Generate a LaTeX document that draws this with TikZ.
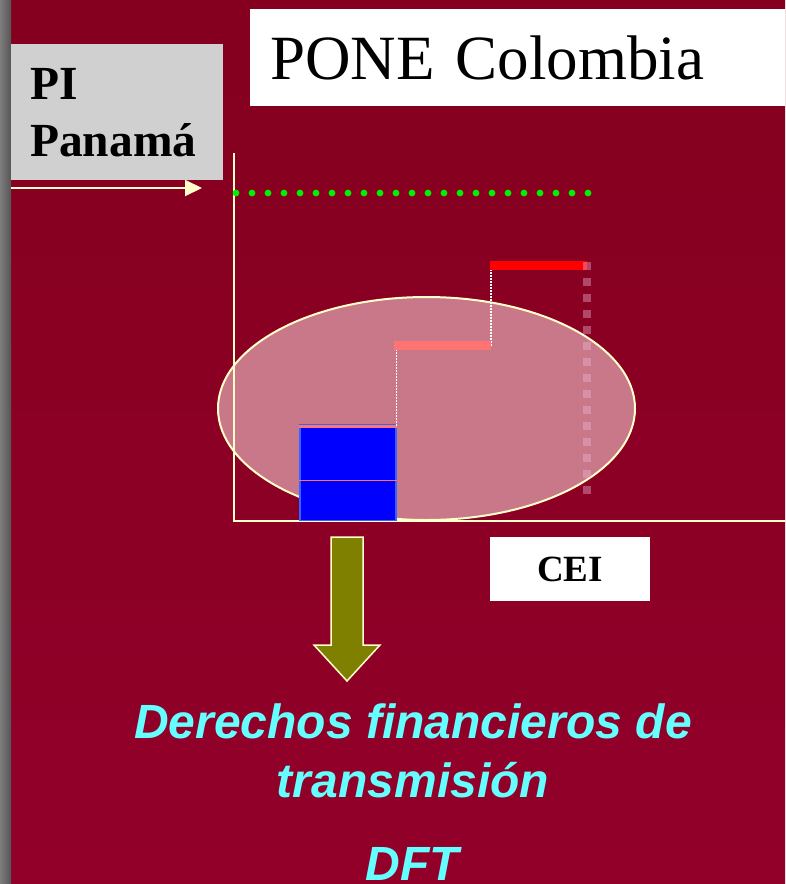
\documentclass[tikz,border=0pt]{standalone}
\usepackage{fontspec}
\setmainfont{Liberation Serif}
\newfontfamily\arialfont{Liberation Sans}
\usetikzlibrary{arrows.meta,positioning,shapes.geometric}
\definecolor{bgtop}{RGB}{132,0,30}
\definecolor{bgbot}{RGB}{146,0,42}
\definecolor{stripl}{RGB}{125,125,125}
\definecolor{stripr}{RGB}{85,85,85}
\definecolor{cream}{RGB}{255,255,204}
\definecolor{pigray}{RGB}{208,208,208}
\definecolor{ovalfill}{RGB}{200,120,136}
\definecolor{salmon}{RGB}{255,115,115}
\definecolor{boxblue}{RGB}{0,0,255}
\definecolor{boxedge}{RGB}{50,100,255}
\definecolor{mauve}{RGB}{235,180,215}
\definecolor{dotgreen}{RGB}{0,240,0}
\definecolor{arrowolive}{RGB}{128,128,0}
\definecolor{dftcyan}{RGB}{102,255,255}
\tikzset{
  panel/.style={fill=white, inner sep=0pt},
  axisline/.style={cream, line width=2.6},
  stepline/.style={white, line width=1.5, dash pattern=on 1.5pt off 1.5pt},
  levelbar/.style={line width=8.5},
  dftline/.style={dftcyan, font=\fontsize{48}{58}\selectfont\arialfont\bfseries\itshape, anchor=base, inner sep=0pt}
}
\begin{document}
\begin{tikzpicture}[x=1pt,y=-1pt]
  \useasboundingbox (0,0) rectangle (785,884);
  % background
  \shade[top color=bgtop, bottom color=bgbot] (11,0) rectangle (785,884);
  \shade[left color=stripl, right color=stripr] (0,0) rectangle (11,884);

  % titles
  \node[panel, anchor=north west, minimum width=535, minimum height=97,
        text width=495, inner xsep=20, align=left,
        font=\fontsize{63}{70}\selectfont] (pone) at (250,9) {PONE Colombia};
  \node[fill=pigray, inner sep=0pt, anchor=north west, minimum width=212, minimum height=136,
        text width=174, inner xsep=19, align=left,
        font=\fontsize{47.5}{57}\selectfont\bfseries] (pi) at (11,44) {PI\\Panamá};
  \coordinate (pistart) at (11,188);
  \coordinate (piend) at (202,188);
  \draw[cream, line width=2, -{Triangle[length=17pt,width=16pt]}] (pistart) -- (piend);

  % oval
  \node[draw=cream, line width=2, fill=ovalfill, ellipse, minimum width=417, minimum height=223,
        inner sep=0pt] (oval) at (426.5,408.5) {};

  % axes
  \coordinate (origin) at (234,521);
  \coordinate (ytop) at (234,153);
  \coordinate (xend) at (785,521);
  \draw[axisline] (ytop) -- (origin) -- (xend);

  % PI level
  \foreach \i in {0,...,22}{
    \fill[dotgreen] (236+16*\i,193) circle (3.4);
  }

  % stepped offer
  \node[fill=boxblue, draw=boxedge, line width=1.5, anchor=south west, minimum width=96, minimum height=96,
        inner sep=0pt] (block) at (299,521) {};
  \coordinate (mid) at (0,480);
  \draw[salmon, line width=1] (block.west |- mid) -- (block.east |- mid);
  \draw[salmon, line width=3] ([yshift=-2.5]block.north west) -- ([yshift=-2.5]block.north east);
  \coordinate (s1a) at (394,345.5);
  \coordinate (s1b) at (491,345.5);
  \coordinate (s2a) at (490,265.5);
  \coordinate (s2b) at (587,265.5);
  \draw[stepline] ([yshift=-2]block.north east) -- (block.north east |- s1a);
  \draw[stepline] (s1b) -- (s1b |- s2a);
  \draw[salmon, levelbar] (s1a) -- (s1b);
  \draw[red, levelbar] (s2a) -- (s2b);
  \foreach \j in {0,...,14}{
    \fill[mauve, opacity=0.4] (583,262+16*\j) rectangle (591,270+16*\j);
  }

  % CEI
  \node[panel, minimum width=160, minimum height=64, font=\fontsize{37}{40}\selectfont\bfseries]
        (cei) at (570,569) {CEI};

  % result arrow
  \draw[fill=arrowolive, draw=cream, line width=1.5, line join=miter]
    (331,537) -- (363,537) -- (363,645) -- (380,645) -- (347,681) -- (314,645) -- (331,645) -- cycle;

  % DFT text
  \node[dftline] (dftone) at (413,738) {Derechos financieros de};
  \node[dftline] (dfttwo) at (413,797) {transmisión};
  \node[dftline] (dft) at (412,880) {DFT};
\end{tikzpicture}
\end{document}
